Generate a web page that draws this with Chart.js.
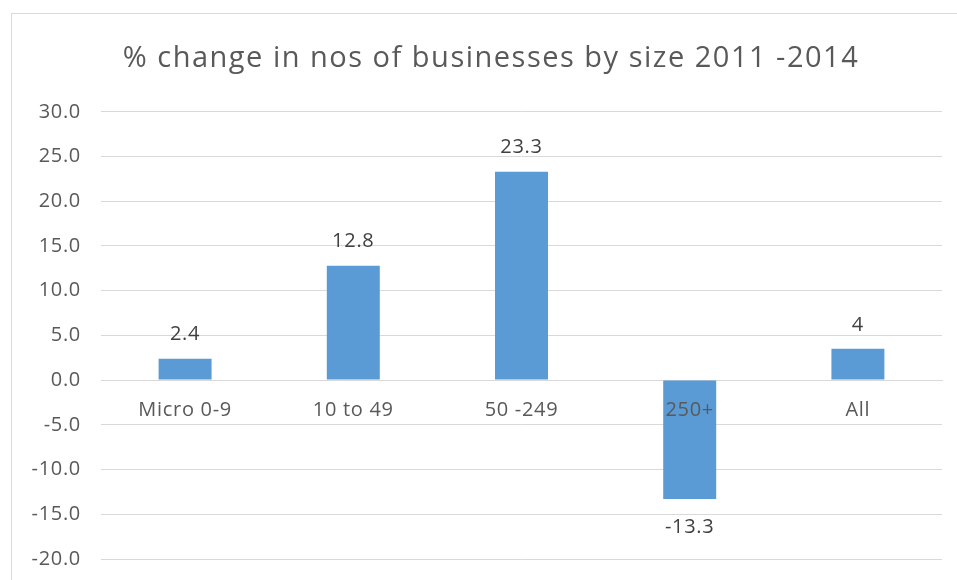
<!DOCTYPE html>
<html>
<head>
<meta charset="utf-8">
<script src="https://cdn.jsdelivr.net/npm/chart.js@4.4.1/dist/chart.umd.min.js"></script>
<style>
  html, body { margin: 0; padding: 0; background: #ffffff; }
  #wrap { position: relative; width: 957px; height: 580px; }
</style>
</head>
<body>
<div id="wrap"><canvas id="c" width="957" height="580"></canvas></div>
<script>
const categories = ['Micro 0-9', '10 to 49', '50 -249', '250+', 'All'];
const changeValues = [2.4, 12.8, 23.3, -13.3, 3.5];
const valueLabels = ['2.4', '12.8', '23.3', '-13.3', '4'];
const titleText = '% change in nos of businesses by size 2011 -2014';
const yMin = -20, yMax = 30, yStep = 5;

const FONT = "'Open Sans', 'Noto Sans', sans-serif";
const TEXT_SPACING = '0.7px';
const TITLE_SPACING = '1.5px';

const frame = {
  id: 'frame',
  afterLayout(chart) {
    // widen the y-axis label clip region so long labels are not cut
    if (chart.scales.y) chart.scales.y.left = 0;
  },
  beforeDraw(chart) {
    const ctx = chart.ctx;
    const tb = chart.titleBlock;
    if (tb && !tb._spaced) {
      const orig = tb.draw.bind(tb);
      tb.draw = function (...args) {
        const prev = chart.ctx.letterSpacing;
        chart.ctx.letterSpacing = TITLE_SPACING;
        orig(...args);
        chart.ctx.letterSpacing = prev;
      };
      tb._spaced = true;
    }
    ctx.save();
    ctx.fillStyle = '#ffffff';
    ctx.fillRect(0, 0, chart.width, chart.height);
    ctx.strokeStyle = '#d9d9d9';
    ctx.lineWidth = 1;
    ctx.strokeRect(11.5, 13.5, chart.width + 20, chart.height + 20);
    ctx.restore();
    ctx.letterSpacing = TEXT_SPACING;
  }
};

const barLabels = {
  id: 'barLabels',
  afterDraw(chart) {
    const ctx = chart.ctx;
    const meta = chart.getDatasetMeta(0);
    ctx.save();
    ctx.letterSpacing = TEXT_SPACING;
    ctx.font = '20px ' + FONT;
    ctx.fillStyle = '#404040';
    ctx.textAlign = 'center';
    ctx.textBaseline = 'middle';
    meta.data.forEach((bar, i) => {
      const v = changeValues[i];
      const y = v >= 0 ? bar.y - 24 : bar.y + 28;
      ctx.fillText(valueLabels[i], bar.x, y);
    });
    ctx.restore();
  }
};

new Chart(document.getElementById('c'), {
  type: 'bar',
  data: {
    labels: categories,
    datasets: [{
      data: changeValues,
      backgroundColor: '#5b9bd5',
      borderWidth: 0,
      barPercentage: 0.63,
      categoryPercentage: 0.5
    }]
  },
  options: {
    responsive: false,
    animation: false,
    devicePixelRatio: 1,
    layout: { padding: { left: 40, right: 15, top: 0, bottom: 21 } },
    plugins: {
      legend: { display: false },
      tooltip: { enabled: false },
      title: {
        display: true,
        text: titleText,
        color: '#595959',
        font: { family: FONT, size: 29, weight: 'normal' },
        padding: { top: 41, bottom: 36 }
      }
    },
    scales: {
      x: {
        position: { y: 0 },
        grid: { display: false, drawTicks: false },
        border: { display: true, color: '#d9d9d9', width: 1 },
        ticks: {
          z: 1,
          color: '#595959',
          font: { family: FONT, size: 20 },
          padding: 18,
          maxRotation: 0,
          autoSkip: false
        }
      },
      y: {
        min: yMin,
        max: yMax,
        afterFit(scale) {
          scale.width = 61;
          scale.paddingTop = 0;
          scale.paddingBottom = 0;
        },
        grid: { color: '#d9d9d9', lineWidth: 1, drawTicks: false },
        border: { display: false },
        ticks: {
          stepSize: yStep,
          color: '#595959',
          font: { family: FONT, size: 20 },
          padding: 20,
          callback: (v) => Number(v).toFixed(1)
        }
      }
    }
  },
  plugins: [frame, barLabels]
});
</script>
</body>
</html>
